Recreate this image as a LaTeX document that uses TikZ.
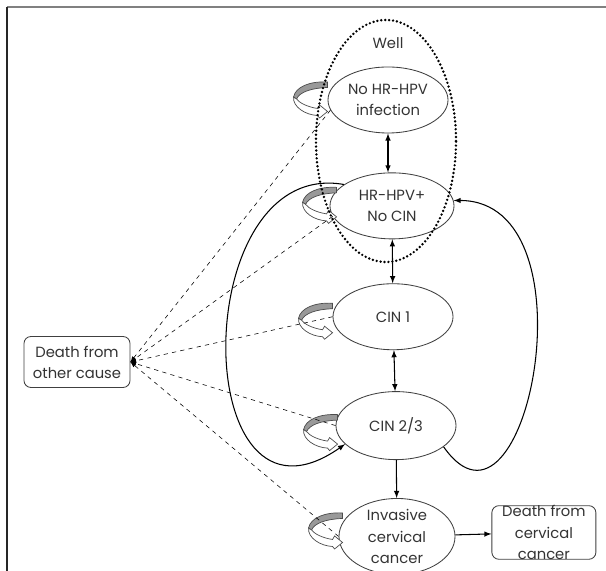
\documentclass[tikz,border=0pt]{standalone}
\usepackage{fontspec}
\setmainfont{Poppins}
\usetikzlibrary{shapes.geometric,positioning}

\begin{document}
\begin{tikzpicture}[x=0.025cm, y=0.025cm, >=latex,
	every text node part/.style={align=center,font=\fontsize{10.5}{15}\selectfont},
	every node/.style={text=black!80},
	state/.style={draw=black!75, line width=0.6pt, fill=white, ellipse, inner sep=0pt, minimum width=3cm, minimum height=1.65cm},
	outcome/.style={draw=black!75, line width=0.6pt, fill=white, rectangle, rounded corners=5pt, inner sep=0pt, minimum width=2.6cm, minimum height=1.3cm},
	link/.style={line width=0.75pt},
	loopicon/.pic={
		\filldraw [fill=black!40, draw=black!70, line width=0.5pt] (0,17) .. controls (-18,18) and (-32,12) .. (-34,2) -- (-31,0) .. controls (-28,7) and (-16,11) .. (0,11.5) -- cycle;
		\filldraw [fill=white, draw=black!70, line width=0.5pt] (-34,2) .. controls (-35,-8) and (-22,-16) .. (-10,-16.5) -- (-8,-19) -- (0,-12.5) -- (-8,-6) -- (-10,-9.5) .. controls (-20,-8) and (-28,-4) .. (-31,0) -- cycle;
	}]
			\useasboundingbox (0,0) rectangle (606,571);
			\draw [black!50, line width=1.5pt] (7,564) -- (606,564);
			\draw [black!85, line width=1.3pt] (7,0) -- (7,564);
			\node [state] (nohpv) at (388,471) {No HR-HPV \\ infection};
			\node [state, minimum width=3.1cm, below=0.975cm of nohpv, xshift=0.1cm] (hpv) {HR-HPV+ \\ No CIN};
			\node [state, below=1.1cm of hpv, xshift=0.025cm] (cin1) {CIN 1};
			\node [state, minimum height=1.7cm, below=1.025cm of cin1, xshift=0.075cm] (cin23) {CIN 2/3};
			\node [state, minimum width=2.9cm, minimum height=1.9cm, below=0.95cm of cin23, xshift=0.025cm, font=\fontsize{10.5}{12.5}\selectfont] (icc) {Invasive \\ cervical \\ cancer};
			\node [outcome, right=0.9cm of icc, yshift=0.1cm, font=\fontsize{10.5}{12.5}\selectfont] (dcc) {Death from \\ cervical \\ cancer};
			\node [outcome, minimum width=2.65cm, minimum height=1.275cm] (doc) at (77,209) {Death from \\ other cause};
			\node (welltxt) at (388,528) {Well};
			\pic [shift={(0,1)}] at (nohpv.west) {loopicon};
			\pic [shift={(7,1.5)}] at (hpv.west) {loopicon};
			\pic [shift={(0,-3.5)}] at (cin1.west) {loopicon};
			\pic [shift={(2,-6)}] at (cin23.west) {loopicon};
			\pic [shift={(4,6.5)}] at (icc.west) {loopicon};
			\draw [link, <->] (nohpv.south) -- (nohpv.south |- hpv.north);
			\draw [link, <->] (hpv) -- (cin1);
			\draw [link, <->] (cin1) -- (cin23);
			\draw [link, ->] (cin23) -- (icc);
			\draw [link, ->] (icc) -- (dcc);
			\draw [link, ->, out=-55, in=0, distance=3.6cm] (cin23.-24) to (hpv.5);
			\draw [link, ->, out=170, in=215, out distance=4cm, in distance=4.8cm] (hpv.156) to (cin23.200);
			\draw [->, dashed] (nohpv.190) -- (doc.east);
			\draw [->, dashed] (hpv.190) -- (doc.east);
			\draw [->, dashed] (cin1.west) -- (doc.east);
			\draw [->, dashed] (cin23.west) -- (doc.east);
			\draw [->, dashed] (icc.west) -- (doc.east);
			\node [draw=black, ellipse, line width=1.9pt, dash pattern=on 0pt off 2.8pt, line cap=round, minimum width=3.5cm, minimum height=6.05cm] (well) at (386,430) {};
		\end{tikzpicture}
\end{document}
